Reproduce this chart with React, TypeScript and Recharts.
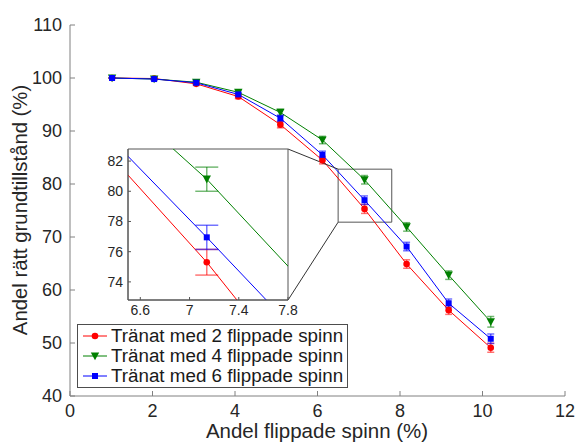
import React from 'react';
import {
  ComposedChart,
  Line,
  XAxis,
  YAxis,
  ErrorBar,
  ReferenceArea,
  ReferenceLine,
  Legend,
  CartesianGrid,
} from 'recharts';

const flipped = [1.02, 2.04, 3.06, 4.08, 5.1, 6.12, 7.14, 8.16, 9.18, 10.2];
const trained2 = [100, 99.9, 98.9, 96.5, 91.2, 84.5, 75.3, 64.9, 56.2, 49.1];
const trained2Err = [0.05, 0.15, 0.3, 0.4, 0.6, 0.7, 0.85, 0.8, 0.8, 0.85];
const trained4 = [100, 99.8, 99.2, 97.3, 93.5, 88.3, 80.8, 71.9, 62.8, 54.0];
const trained4Err = [0.05, 0.15, 0.3, 0.4, 0.6, 0.7, 0.8, 0.8, 0.8, 1.0];
const trained6 = [100, 99.8, 99.1, 96.9, 92.4, 85.5, 76.95, 68.2, 57.5, 50.8];
const trained6Err = [0.05, 0.15, 0.3, 0.4, 0.6, 0.7, 0.8, 0.8, 0.8, 0.9];

const xTicks = [0, 2, 4, 6, 8, 10, 12];
const yTicks = [40, 50, 60, 70, 80, 90, 100, 110];
const insetXTicks = [6.6, 7, 7.4, 7.8];
const insetYTicks = [74, 76, 78, 80, 82];

// zoom window shown in the inset
const zoomX = [6.5, 7.8];
const zoomY = [72.8, 82.8];
// inset corners expressed in main chart units (for the connector lines)
const insetRightX = 5.285;
const insetTopY = 86.6;
const insetBottomY = 58.1;

const series = [
  { key: 't2', err: 't2e', name: 'Tränat med 2 flippade spinn', color: '#ff0000', shape: 'circle' },
  { key: 't4', err: 't4e', name: 'Tränat med 4 flippade spinn', color: '#008000', shape: 'triangle' },
  { key: 't6', err: 't6e', name: 'Tränat med 6 flippade spinn', color: '#0000ff', shape: 'square' },
];

const data = flipped.map((x, i) => ({
  x,
  t2: trained2[i],
  t2e: trained2Err[i],
  t4: trained4[i],
  t4e: trained4Err[i],
  t6: trained6[i],
  t6e: trained6Err[i],
}));

const FONT = '"Liberation Sans", Arial, Helvetica, sans-serif';
const TEXT = '#262626';
const AXIS = '#808080';

function Marker({ shape, cx, cy, color }: { shape: string; cx: number; cy: number; color: string }) {
  if (cx == null || cy == null) return null;
  if (shape === 'circle') return <circle cx={cx} cy={cy} r={3.3} fill={color} />;
  if (shape === 'triangle')
    return <polygon points={`${cx - 4.2},${cy - 3.6} ${cx + 4.2},${cy - 3.6} ${cx},${cy + 4.2}`} fill={color} />;
  return <rect x={cx - 3} y={cy - 3} width={6} height={6} fill={color} />;
}

const LegendBox = () => (
  <div
    style={{
      border: '1px solid #4d4d4d',
      background: '#fff',
      padding: '1px 4px 1px 2px',
      fontFamily: FONT,
      fontSize: 18.8,
      color: '#1a1a1a',
      lineHeight: '20px',
      whiteSpace: 'nowrap',
    }}
  >
    {series.map((s) => (
      <div key={s.key} style={{ display: 'flex', alignItems: 'center', height: 20 }}>
        <svg width={30} height={20} style={{ marginRight: 1 }}>
          <line x1={3} x2={27} y1={10} y2={10} stroke={s.color} strokeWidth={1} />
          <Marker shape={s.shape} cx={15} cy={10} color={s.color} />
        </svg>
        <span>{s.name}</span>
      </div>
    ))}
  </div>
);

const App = () => {
  return (
    <div style={{ position: 'absolute', left: 0, top: 0, width: 576, height: 442, background: '#fff' }}>
      <ComposedChart
        width={576}
        height={442}
        data={data}
        margin={{ top: 25, right: 11, left: 0, bottom: 0 }}
        style={{ fontFamily: FONT }}
      >
        <XAxis
          dataKey="x"
          type="number"
          domain={[0, 12]}
          ticks={xTicks}
          height={46}
          stroke={AXIS}
          tickSize={-5}
          tickMargin={13}
          tick={{ fill: TEXT, fontSize: 18 }}
          label={() => (
            <text x={317} y={438} textAnchor="middle" fill={TEXT} fontSize={20.5} fontFamily={FONT}>
              Andel flippade spinn (%)
            </text>
          )}
        />
        <YAxis
          type="number"
          domain={[40, 110]}
          ticks={yTicks}
          width={70}
          stroke={AXIS}
          tickSize={-5}
          tickMargin={13}
          tick={{ fill: TEXT, fontSize: 18 }}
          label={() => (
            <text
              x={27}
              y={210}
              transform="rotate(-90, 27, 210)"
              textAnchor="middle"
              fill={TEXT}
              fontSize={20.3}
              fontFamily={FONT}
            >
              Andel rätt grundtillstånd (%)
            </text>
          )}
        />
        {series.map((s) => (
          <Line
            key={s.key}
            dataKey={s.key}
            name={s.name}
            stroke={s.color}
            strokeWidth={1}
            type="linear"
            isAnimationActive={false}
            dot={(p: any) => <Marker key={`${s.key}-${p.index}`} shape={s.shape} cx={p.cx} cy={p.cy} color={s.color} />}
            activeDot={false}
          >
            <ErrorBar dataKey={s.err} width={3.5} stroke={s.color} strokeOpacity={0.55} isAnimationActive={false} />
          </Line>
        ))}
        <ReferenceArea
          x1={zoomX[0]}
          x2={zoomX[1]}
          y1={zoomY[0]}
          y2={zoomY[1]}
          fill="none"
          fillOpacity={0}
          stroke="#555"
          strokeWidth={1}
        />
        <ReferenceLine
          segment={[{ x: insetRightX, y: insetTopY }, { x: zoomX[0], y: zoomY[1] }]}
          stroke="#333"
          strokeWidth={1}
          ifOverflow="visible"
        />
        <ReferenceLine
          segment={[{ x: insetRightX, y: insetBottomY }, { x: zoomX[0], y: zoomY[0] }]}
          stroke="#333"
          strokeWidth={1}
          ifOverflow="visible"
        />
        <Legend
          layout="vertical"
          align="center"
          verticalAlign="middle"
          content={() => <LegendBox />}
          wrapperStyle={{ position: 'absolute', left: 77, top: 324, width: 'auto', height: 'auto' }}
        />
      </ComposedChart>

      <div style={{ position: 'absolute', left: 88, top: 140 }}>
        <ComposedChart
          width={210}
          height={180}
          data={data}
          margin={{ top: 9, right: 10, left: 0, bottom: 0 }}
          style={{ fontFamily: FONT }}
        >
          <CartesianGrid horizontal={false} vertical={false} fill="#fff" />
          <XAxis
            dataKey="x"
            type="number"
            domain={zoomX}
            ticks={insetXTicks}
            allowDataOverflow
            height={20}
            stroke="#555"
            tickSize={-3}
            tickMargin={8}
            tick={{ fill: TEXT, fontSize: 14 }}
          />
          <XAxis
            xAxisId="top"
            dataKey="x"
            orientation="top"
            type="number"
            domain={zoomX}
            ticks={insetXTicks}
            allowDataOverflow
            height={0}
            stroke="#555"
            tickSize={-3}
            tickFormatter={() => ''}
          />
          <YAxis
            type="number"
            domain={zoomY}
            ticks={insetYTicks}
            allowDataOverflow
            width={40}
            stroke="#555"
            tickSize={-3}
            tickMargin={8}
            tick={{ fill: TEXT, fontSize: 14 }}
          />
          <YAxis
            yAxisId="right"
            orientation="right"
            type="number"
            domain={zoomY}
            ticks={insetYTicks}
            allowDataOverflow
            width={0}
            stroke="#555"
            tickSize={-3}
            tickFormatter={() => ''}
          />
          {series.map((s) => (
            <Line
              key={s.key}
              dataKey={s.key}
              stroke={s.color}
              strokeWidth={1}
              type="linear"
              isAnimationActive={false}
              dot={(p: any) => <Marker key={`${s.key}-i-${p.index}`} shape={s.shape} cx={p.cx} cy={p.cy} color={s.color} />}
              activeDot={false}
            >
              <ErrorBar dataKey={s.err} width={11.5} stroke={s.color} strokeOpacity={0.55} isAnimationActive={false} />
            </Line>
          ))}
          {/* invisible series so the top/right frame axes are drawn */}
          <Line
            dataKey="t2"
            xAxisId="top"
            yAxisId="right"
            stroke="none"
            dot={false}
            activeDot={false}
            legendType="none"
            isAnimationActive={false}
          />
          <ReferenceArea
            x1={zoomX[0]}
            x2={zoomX[1]}
            y1={zoomY[0]}
            y2={zoomY[1]}
            fill="none"
            fillOpacity={0}
            stroke="#555"
            strokeWidth={1}
          />
        </ComposedChart>
      </div>
    </div>
  );
};

export default App;
